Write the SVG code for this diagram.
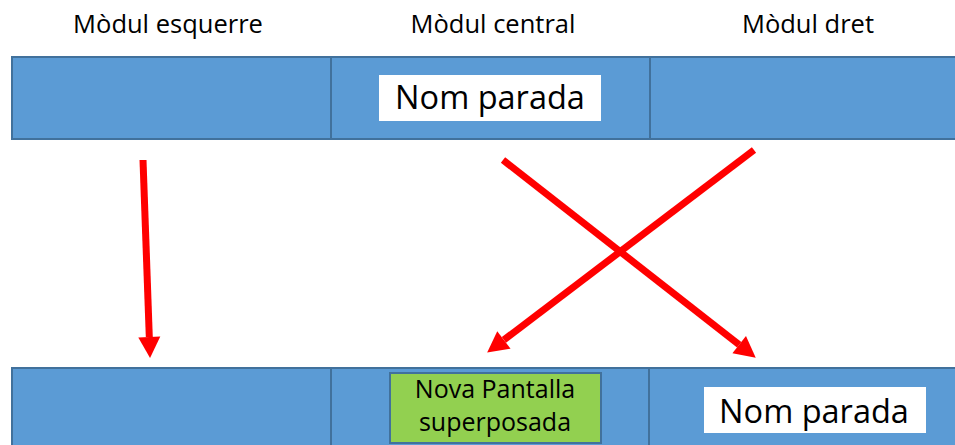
<svg xmlns="http://www.w3.org/2000/svg" width="955" height="445" viewBox="0 0 955 445">
<defs>
<style>
.bar{fill:#5B9BD5;stroke:#41719C;stroke-width:2}
.div{stroke:#41719C;stroke-width:2}
.white{fill:#FFFFFF}
.green{fill:#92D050;stroke:#41719C;stroke-width:2}
.title{font-family:"Open Sans","Liberation Sans",sans-serif;font-size:25.5px;fill:#000;text-anchor:middle}
.big{font-family:"Open Sans","Liberation Sans",sans-serif;font-size:32.5px;fill:#000;text-anchor:middle}
.mid{font-family:"Open Sans","Liberation Sans",sans-serif;font-size:25px;fill:#000;text-anchor:middle}
.arrow{stroke:#FF0000;stroke-width:7;fill:none;marker-end:url(#head)}
</style>
<marker id="head" markerUnits="userSpaceOnUse" markerWidth="22" markerHeight="24" refX="0" refY="11" orient="auto" viewBox="0 0 22 22" overflow="visible">
<path d="M0,0 L21,11 L0,22 z" fill="#FF0000"/>
</marker>
</defs>
<rect width="955" height="445" fill="#FFFFFF"/>
<g id="titles">
<text class="title" x="168" y="33">Mòdul esquerre</text>
<text class="title" x="493" y="33">Mòdul central</text>
<text class="title" x="808" y="33">Mòdul dret</text>
</g>
<g id="top-bar">
<rect class="bar" x="12" y="57" width="950" height="82"/>
<line class="div" x1="331" y1="57" x2="331" y2="139"/>
<line class="div" x1="650" y1="57" x2="650" y2="139"/>
</g>
<g id="top-label">
<rect class="white" x="379" y="75" width="222" height="46"/>
<text class="big" x="490" y="109">Nom parada</text>
</g>
<g id="bottom-bar">
<rect class="bar" x="12" y="368" width="950" height="90"/>
<line class="div" x1="331" y1="368" x2="331" y2="445"/>
<line class="div" x1="649" y1="368" x2="649" y2="445"/>
</g>
<g id="overlay">
<rect class="green" x="390" y="373" width="211" height="70"/>
<text class="mid" x="495" y="398">Nova Pantalla</text>
<text class="mid" x="495" y="431">superposada</text>
</g>
<g id="bottom-label">
<rect class="white" x="704" y="387" width="222" height="46"/>
<text class="big" x="814" y="423">Nom parada</text>
</g>
<g id="connectors">
<line class="arrow" x1="143" y1="160" x2="149.3" y2="337"/>
<line class="arrow" x1="503" y1="160" x2="739.2" y2="344.7"/>
<line class="arrow" x1="754" y1="150" x2="503.9" y2="339.9"/>
</g>
</svg>
